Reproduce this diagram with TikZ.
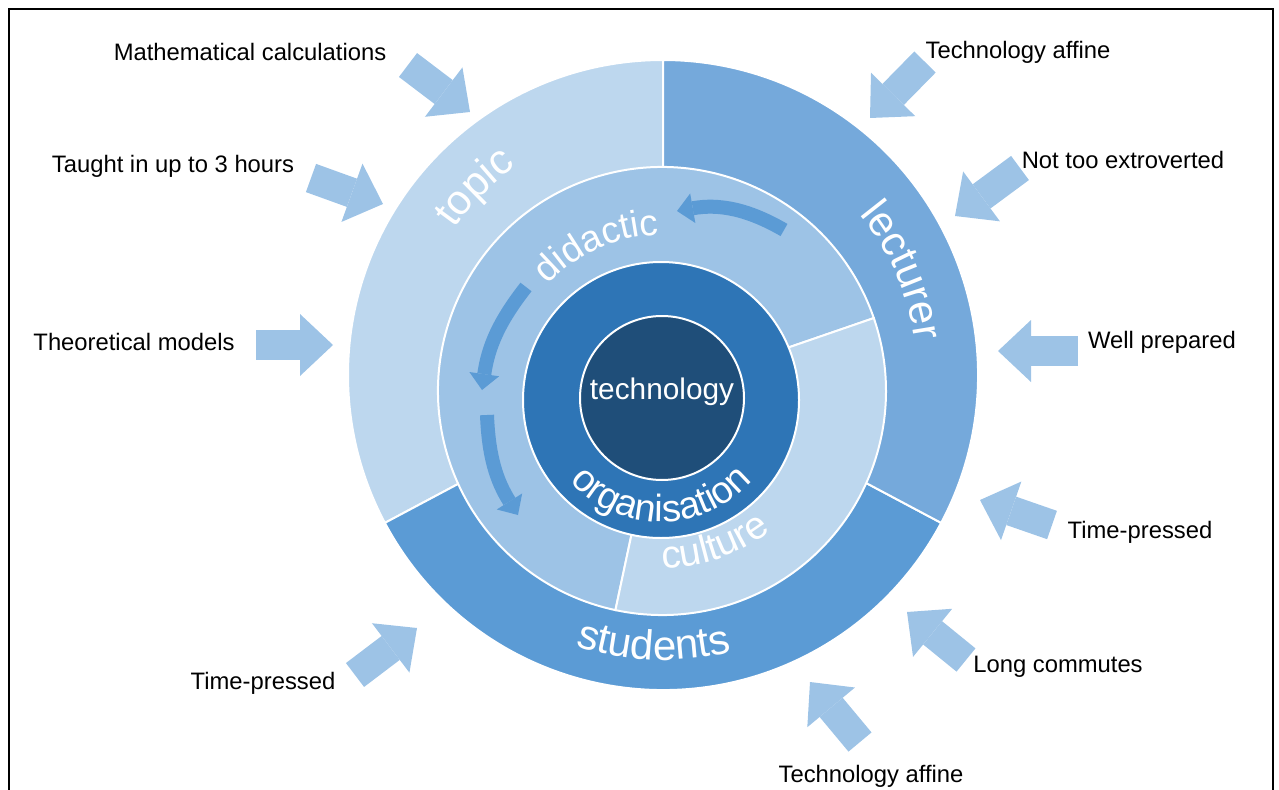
\documentclass[tikz,border=0pt]{standalone}
\usepackage{fontspec}
\setmainfont{Liberation Sans}
\usetikzlibrary{arrows.meta,decorations.text,calc}

\definecolor{topicblue}{RGB}{189,215,238}
\definecolor{lectblue}{RGB}{117,169,219}
\definecolor{studblue}{RGB}{91,155,213}
\definecolor{didblue}{RGB}{157,195,230}
\definecolor{cultblue}{RGB}{189,215,238}
\definecolor{orgblue}{RGB}{46,117,182}
\definecolor{techblue}{RGB}{31,78,121}
\definecolor{arrowblue}{RGB}{157,195,230}

\newcommand{\outerfont}{\fontsize{21}{22}\selectfont}
\newcommand{\midfont}{\fontsize{18.5}{20}\selectfont}
\newcommand{\cultfont}{\fontsize{19.5}{20}\selectfont}
\newcommand{\orgfont}{\fontsize{19}{20}\selectfont}
\tikzstyle{lbl} = [font=\fontsize{11.9}{14}\selectfont, text=black, inner sep=0pt]
\tikzstyle{segment} = [draw=white, line width=1pt]
\tikzstyle{blockarrow} = [draw=arrowblue, line width=15pt,
-{Triangle[width=31pt,length=16.5pt,line width=0pt]}]
\tikzstyle{cyclearrow} = [draw=studblue, line width=7pt,
-{Triangle[width=15pt,length=8pt,line width=0pt]}]
\tikzstyle{ringtext} = [decorate, decoration={text along path, text align=center, text color=white}]

\begin{document}
\begin{tikzpicture}[x=0.5pt,y=0.5pt]
\useasboundingbox (0,0) rectangle (1279,789);
\draw[line width=1.2pt] (9,-10) |- (1273,780) -- (1273,-10);

% centres of the rings
\coordinate (oc) at (663,414);
\coordinate (mc) at (662,398);
\coordinate (ic) at (661,389);
\coordinate (cc) at (662,391);

% outer ring
\fill[topicblue, segment] (oc) -- ($(oc)+(90:315)$) arc[start angle=90, end angle=208, radius=315] -- cycle;
\fill[studblue, segment] (oc) -- ($(oc)+(208:315)$) arc[start angle=208, end angle=332, radius=315] -- cycle;
\fill[lectblue, segment] (oc) -- ($(oc)+(-28:315)$) arc[start angle=-28, end angle=90, radius=315] -- cycle;

% middle ring
\fill[didblue, segment] (mc) -- ($(mc)+(19:224)$) arc[start angle=19, end angle=258, radius=224] -- cycle;
\fill[cultblue, segment] (mc) -- ($(mc)+(258:224)$) arc[start angle=258, end angle=379, radius=224] -- cycle;

% inner ring and core
\fill[orgblue, segment] (ic) circle[radius=138];
\fill[techblue, segment] (cc) circle[radius=82];
\node[text=white, font=\fontsize{14.9}{16}\selectfont, inner sep=0pt] (tech) at (662,397) {technology};

% ring labels
\path[ringtext, decoration={text={|\outerfont|topic}}] ($(oc)+(170:255)$) arc[start angle=170, end angle=100, radius=255];
\path[ringtext, decoration={text={|\outerfont|lecturer}}] ($(oc)+(62:254)$) arc[start angle=62, end angle=-15, radius=254];
\path[ringtext, decoration={text={|\outerfont|students}}] ($(oc)+(230:285)$) arc[start angle=230, end angle=306, radius=285];
\path[ringtext, decoration={text={|\midfont|didactic}}] ($(mc)+(154:156)$) arc[start angle=154, end angle=74, radius=156];
\path[ringtext, decoration={text={|\cultfont|culture}}] ($(mc)+(249:177)$) arc[start angle=249, end angle=329, radius=177];
\path[ringtext, decoration={text={|\orgfont|organisation}}] ($(ic)+(200:122)$) arc[start angle=200, end angle=340, radius=122];

% cycle arrows in the didactic ring
\coordinate (c1s) at (784,559); \coordinate (c1e) at (677,578);
\coordinate (c2s) at (526,502); \coordinate (c2e) at (482,399);
\coordinate (c3s) at (487,374); \coordinate (c3e) at (518,274);
\draw[cyclearrow] (c1s) to[bend right=20] (c1e);
\draw[cyclearrow] (c2s) to[bend right=15] (c2e);
\draw[cyclearrow] (c3s) to[bend right=15] (c3e);

% influences
\node[lbl] (math) at (250,737) {Mathematical calculations};
\node[lbl] (taught) at (173,623) {Taught in up to 3 hours};
\node[lbl] (theory) at (134,447) {Theoretical models};
\node[lbl] (techtop) at (1018,737) {Technology affine};
\node[lbl] (extro) at (1123,629) {Not too extroverted};
\node[lbl] (prep) at (1162,447) {Well prepared};
\node[lbl] (presslect) at (1140,257) {Time-pressed};
\node[lbl] (commute) at (1058,122) {Long commutes};
\node[lbl] (techbot) at (871,13) {Technology affine};
\node[lbl] (pressstud) at (263,106) {Time-pressed};

\coordinate (a1s) at (408,724); \coordinate (a1e) at (470,677);
\coordinate (a2s) at (311,611); \coordinate (a2e) at (383,585);
\coordinate (a3s) at (256,444); \coordinate (a3e) at (333,444);
\coordinate (a4s) at (925,727); \coordinate (a4e) at (870,671);
\coordinate (a5s) at (1020,621); \coordinate (a5e) at (955,573);
\coordinate (a6s) at (1078,438); \coordinate (a6e) at (998,438);
\coordinate (a7s) at (1052,264); \coordinate (a7e) at (980,289);
\coordinate (a8s) at (966,129); \coordinate (a8e) at (907,177);
\coordinate (a9s) at (860,47); \coordinate (a9e) at (810,107);
\coordinate (a10s) at (355,114); \coordinate (a10e) at (417,161);
\foreach \i in {1,...,10}
  \draw[blockarrow] (a\i s) -- (a\i e);
\end{tikzpicture}
\end{document}
